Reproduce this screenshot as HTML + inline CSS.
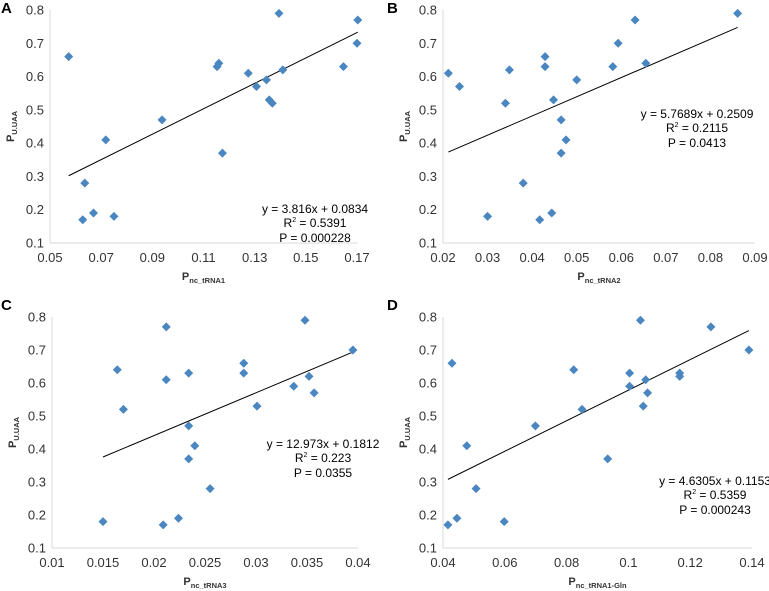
<!DOCTYPE html>
<html><head><meta charset="utf-8"><style>
html,body{margin:0;padding:0;background:#fff;}
svg{display:block;font-family:"Liberation Sans",sans-serif;}
</style></head><body>
<svg id="chart" width="769" height="591" viewBox="0 0 769 591"></svg>
<script>
const yTicks=[0.1,0.2,0.3,0.4,0.5,0.6,0.7,0.8];
const aX=[0.0573,0.0636,0.0628,0.067,0.075,0.0718,0.0938,0.1153,0.116,0.1174,0.1275,0.1307,0.1346,0.1357,0.1369,0.1395,0.141,0.1647,0.1703,0.170];
const aY=[0.66,0.28,0.17,0.19,0.18,0.41,0.47,0.63,0.64,0.37,0.61,0.57,0.59,0.53,0.52,0.79,0.62,0.63,0.77,0.70];
const aTicks=[0.05,0.07,0.09,0.11,0.13,0.15,0.17];
const bX=[0.0212,0.0237,0.030,0.034,0.0349,0.038,0.0417,0.0429,0.0429,0.0444,0.0448,0.0465,0.0465,0.0476,0.050,0.0581,0.0593,0.0631,0.0655,0.0861];
const bY=[0.61,0.57,0.18,0.52,0.62,0.28,0.17,0.66,0.63,0.19,0.53,0.47,0.37,0.41,0.59,0.63,0.70,0.77,0.64,0.79];
const bTicks=[0.02,0.03,0.04,0.05,0.06,0.07,0.08,0.09];
const cX=[0.015,0.0164,0.017,0.0209,0.0212,0.0212,0.0224,0.0234,0.0234,0.0234,0.024,0.0255,0.0288,0.0288,0.0301,0.0337,0.0348,0.0352,0.0357,0.0395];
const cY=[0.18,0.64,0.52,0.17,0.77,0.61,0.19,0.63,0.47,0.37,0.41,0.28,0.66,0.63,0.53,0.59,0.79,0.62,0.57,0.70];
const cTicks=[0.01,0.015,0.02,0.025,0.03,0.035,0.04];
const dX=[0.0416,0.0429,0.0445,0.0477,0.0507,0.0598,0.0699,0.0823,0.085,0.0933,0.1004,0.1004,0.1039,0.1048,0.1056,0.1062,0.1166,0.1166,0.1267,0.139];
const dY=[0.17,0.66,0.19,0.41,0.28,0.18,0.47,0.64,0.52,0.37,0.63,0.59,0.79,0.53,0.61,0.57,0.63,0.62,0.77,0.70];
const dTicks=[0.04,0.06,0.08,0.1,0.12,0.14];
const slopes=[3.816,5.7689,12.973,4.6305];
const intercepts=[0.0834,0.2509,0.1812,0.1153];
const eqLabels=[["y = 3.816x + 0.0834","0.5391","P = 0.000228"],["y = 5.7689x + 0.2509","0.2115","P = 0.0413"],["y = 12.973x + 0.1812","0.223","P = 0.0355"],["y = 4.6305x + 0.1153","0.5359","P = 0.000243"]];
const xSubs=["nc_tRNA1","nc_tRNA2","nc_tRNA3","nc_tRNA1-Gln"];
const letters=["A","B","C","D"];

const NS="http://www.w3.org/2000/svg";
const svg=document.getElementById('chart');
function mk(t,a,p){const e=document.createElementNS(NS,t);for(const k in a)e.setAttribute(k,a[k]);(p||svg).appendChild(e);return e;}
const panels=[
 {xs:aX,ys:aY,ticks:aTicks,x0:50,x1:357,yt:10,yb:243,lx:315,ly:209,lab:[0,12]},
 {xs:bX,ys:bY,ticks:bTicks,x0:443,x1:755,yt:10,yb:243,lx:697,ly:114,lab:[386,12]},
 {xs:cX,ys:cY,ticks:cTicks,x0:52,x1:358,yt:317,yb:548,lx:323,ly:444,lab:[0,309]},
 {xs:dX,ys:dY,ticks:dTicks,x0:443,x1:752,yt:317,yb:548,lx:715,ly:481,lab:[386,309]}
];
panels.forEach((p,i)=>{
 const g=mk('g',{});
 
 
 const tmin=p.ticks[0],tmax=p.ticks[p.ticks.length-1];
 const sx=v=>p.x0+(v-tmin)/(tmax-tmin)*(p.x1-p.x0);
 const sy=v=>p.yb-(v-0.1)/0.7*(p.yb-p.yt);
 const ax=mk('line',{x1:p.x0,y1:p.yt,x2:p.x0,y2:p.yb,stroke:'#d9d9d9'},g);
 
 const bx=mk('line',{x1:p.x0,y1:p.yb,x2:p.x1,y2:p.yb,stroke:'#d9d9d9'},g);
 
 yTicks.forEach(t=>{const e=mk('text',{x:p.x0-6,y:sy(t)+4.5,'text-anchor':'end','font-size':13,fill:'#333'},g);e.textContent=t.toFixed(1);
  });
 p.ticks.forEach(t=>{const e=mk('text',{x:sx(t),y:p.yb+19,'text-anchor':'middle','font-size':13,fill:'#333'},g);e.textContent=String(t);
  });
 const minX=Math.min(...p.xs),maxX=Math.max(...p.xs);
 const tl=mk('line',{x1:sx(minX),y1:sy(slopes[i]*minX+intercepts[i]),x2:sx(maxX),y2:sy(slopes[i]*maxX+intercepts[i]),stroke:'#000','stroke-width':1},g);
 
 p.xs.forEach((v,j)=>{const cx=sx(v),cy=sy(p.ys[j]);
  const d=mk('polygon',{points:`${cx},${cy-4.5} ${cx+4.5},${cy} ${cx},${cy+4.5} ${cx-4.5},${cy}`,fill:'#4a86c0'},g);
  });
 const L=eqLabels[i];
 const t1=mk('text',{x:p.lx,y:p.ly+4,'text-anchor':'middle','font-size':12,fill:'#000'},g);t1.textContent=L[0];
 
 const t2=mk('text',{x:p.lx,y:p.ly+18,'text-anchor':'middle','font-size':12,fill:'#000'},g);
 t2.innerHTML='R<tspan font-size="7" dy="-5">2</tspan><tspan dy="5"> = '+L[1]+'</tspan>';
 
 const t3=mk('text',{x:p.lx,y:p.ly+33,'text-anchor':'middle','font-size':12,fill:'#000'},g);t3.textContent=L[2];
 
 const xt=mk('text',{x:(p.x0+p.x1)/2,y:p.yb+37,'text-anchor':'middle','font-size':11,'font-weight':'bold',fill:'#333'},g);
 xt.innerHTML='P<tspan font-size="7.5" dy="3">'+xSubs[i]+'</tspan>';
 
 const yx=p.x0-36,ym=(p.yt+p.yb)/2;
 const yt=mk('text',{x:yx,y:ym,'text-anchor':'middle','font-size':11,'font-weight':'bold',fill:'#333',transform:`rotate(-90 ${yx} ${ym})`},g);
 yt.innerHTML='P<tspan font-size="7.5" dy="3">U.UAA</tspan>';
 
 const pl=mk('text',{x:p.lab[0]+1,y:p.lab[1]+1,'font-size':15,'font-weight':'bold',fill:'#000'},g);pl.textContent=letters[i];
 
});
</script>
</body></html>
